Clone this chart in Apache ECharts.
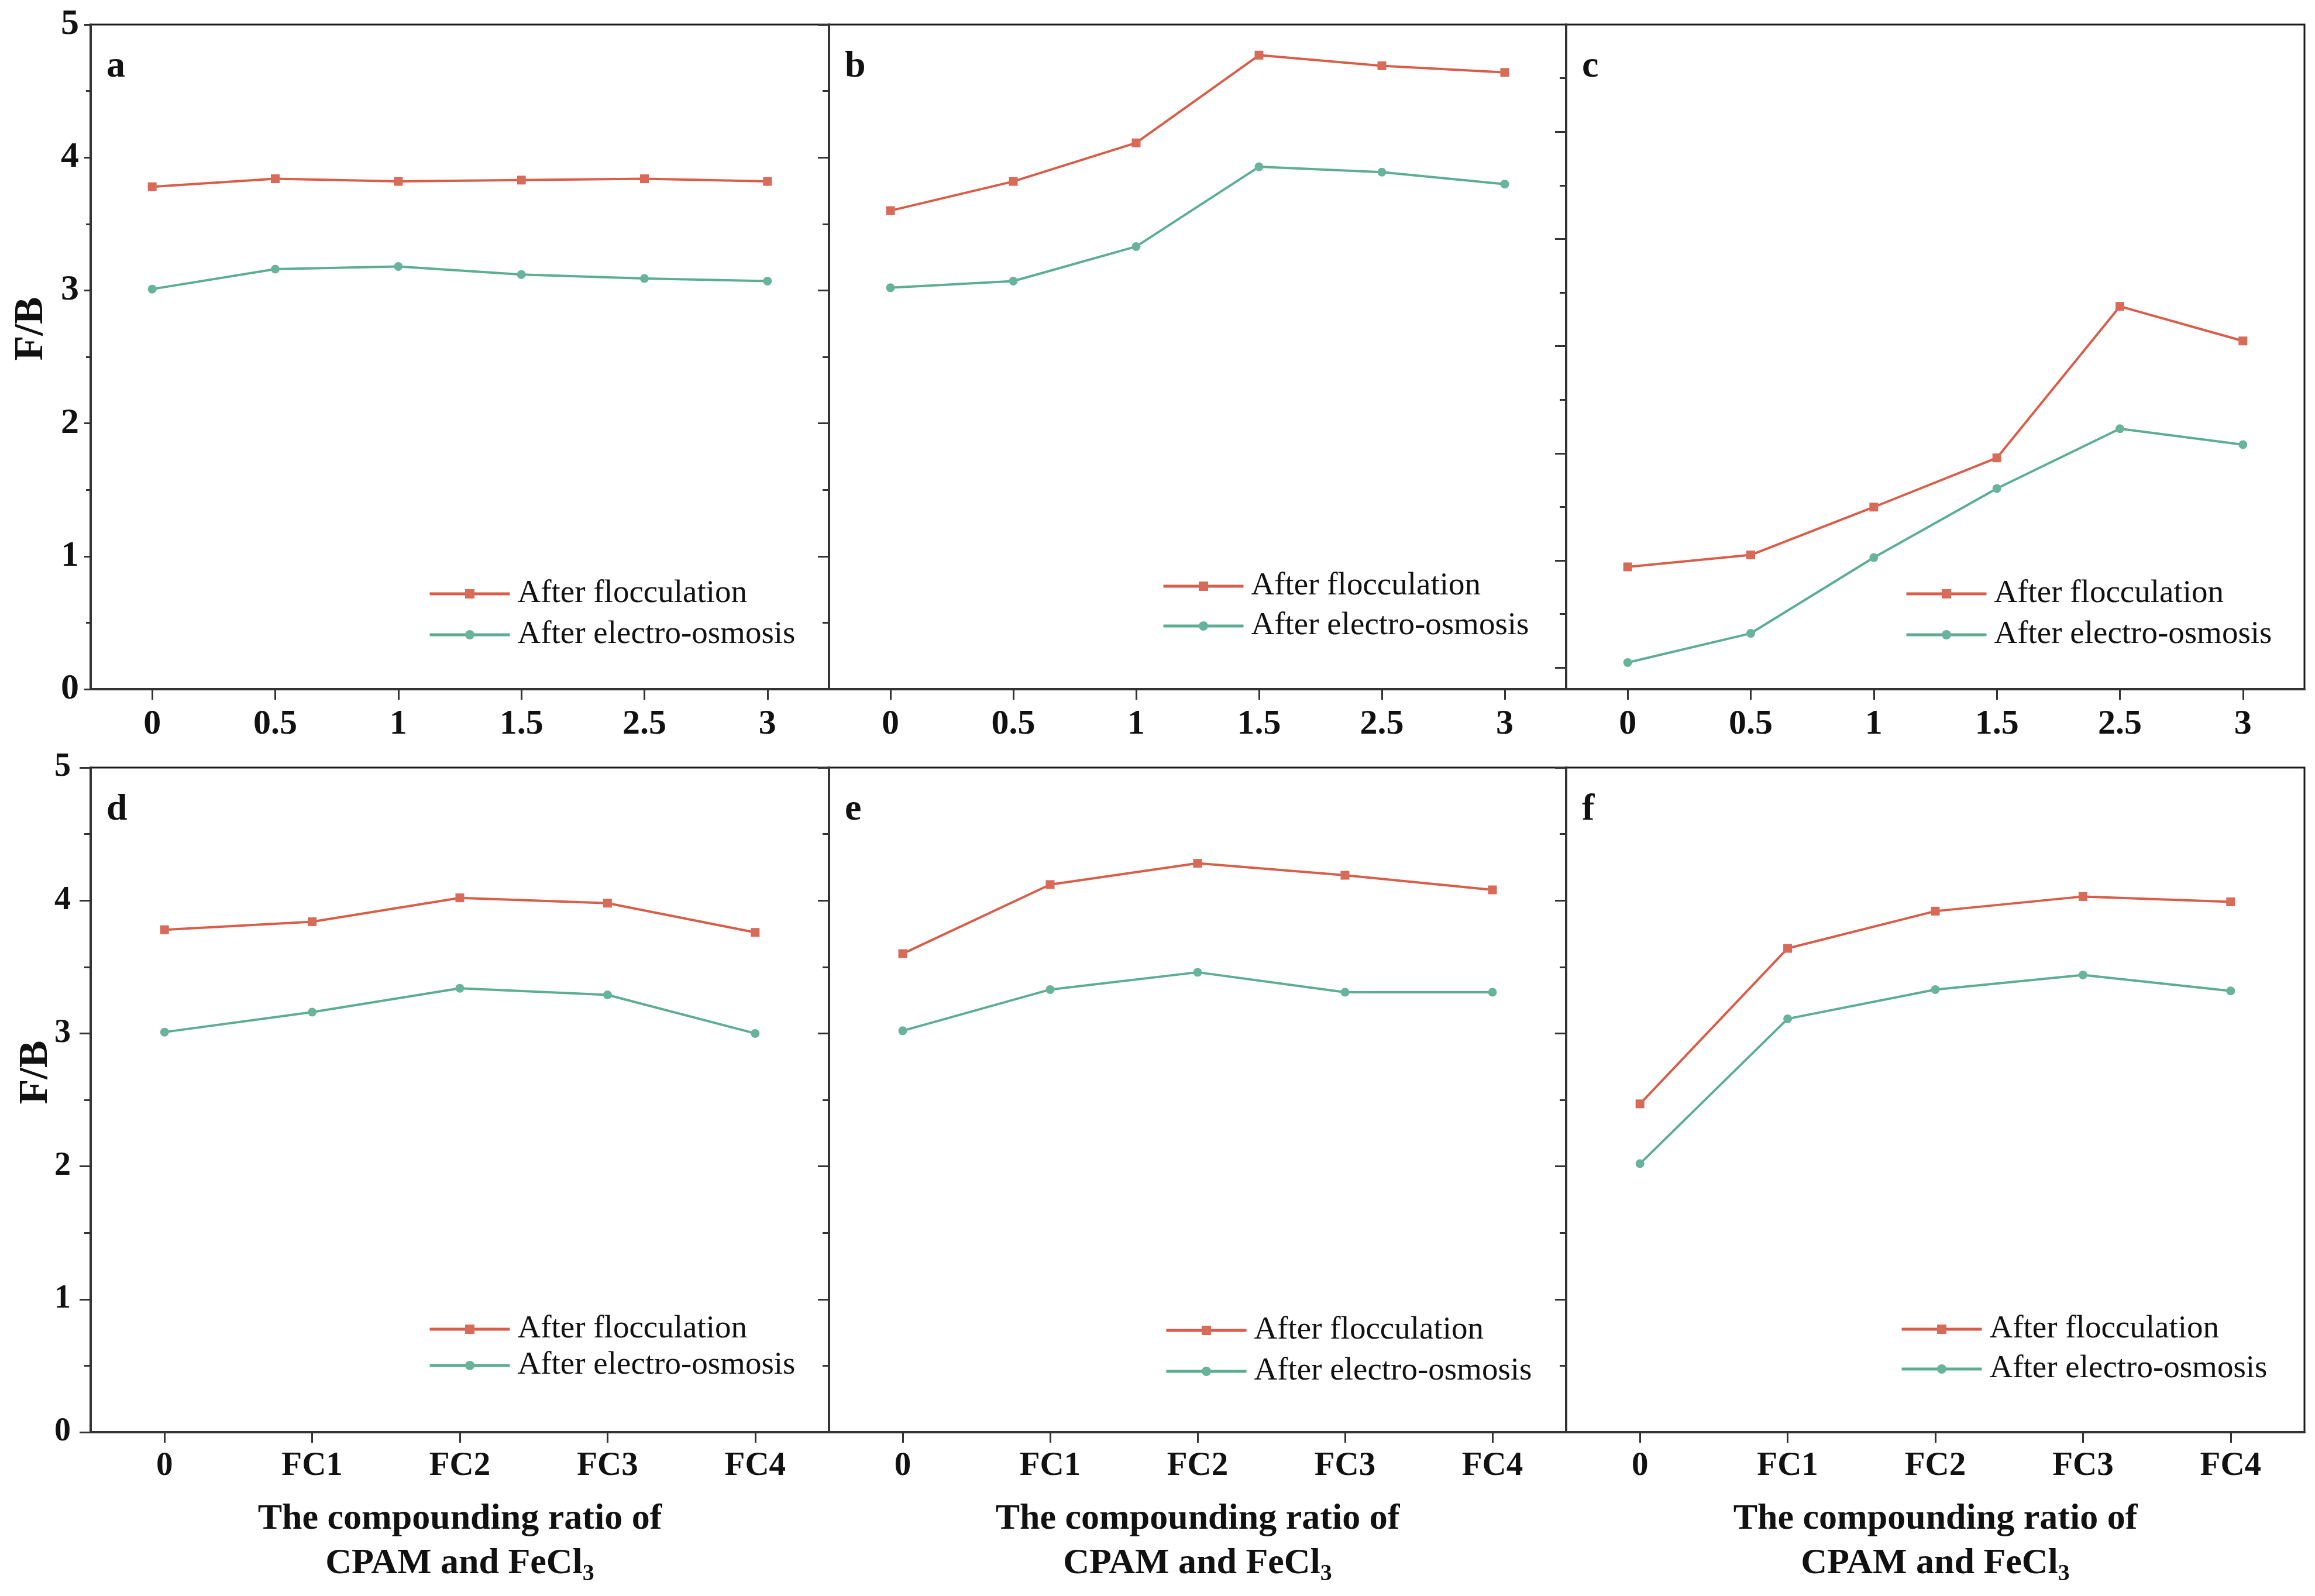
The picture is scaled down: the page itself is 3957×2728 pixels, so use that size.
<!DOCTYPE html>
<html>
<head>
<meta charset="utf-8">
<script src="https://cdn.jsdelivr.net/npm/echarts@6/dist/echarts.min.js"></script>
<style>
html,body{margin:0;padding:0;background:#fff;}
#chart{width:3957px;height:2728px;}
</style>
</head>
<body>
<div id="chart"></div>
<script>
// ---------- data ----------
const xTop = ['0', '0.5', '1', '1.5', '2.5', '3'];
const xBottom = ['0', 'FC1', 'FC2', 'FC3', 'FC4'];
const seriesNames = ['After flocculation', 'After electro-osmosis'];
const panelLetters = ['a', 'b', 'c', 'd', 'e', 'f'];

const flocA = [3.78, 3.84, 3.82, 3.83, 3.84, 3.82];
const eoA   = [3.01, 3.16, 3.18, 3.12, 3.09, 3.07];
const flocB = [3.60, 3.82, 4.11, 4.77, 4.69, 4.64];
const eoB   = [3.02, 3.07, 3.33, 3.93, 3.89, 3.80];
const flocC = [0.92, 1.01, 1.37, 1.74, 2.88, 2.62];
const eoC   = [0.20, 0.42, 0.99, 1.51, 1.96, 1.84];
const flocD = [3.78, 3.84, 4.02, 3.98, 3.76];
const eoD   = [3.01, 3.16, 3.34, 3.29, 3.00];
const flocE = [3.60, 4.12, 4.28, 4.19, 4.08];
const eoE   = [3.02, 3.33, 3.46, 3.31, 3.31];
const flocF = [2.47, 3.64, 3.92, 4.03, 3.99];
const eoF   = [2.02, 3.11, 3.33, 3.44, 3.32];

// panel c has its own (unlabelled) left tick scale
const cMajorTicks = [0, 1, 2, 3, 4, 5];
const cMinorTicks = [0.5, 1.5, 2.5, 3.5, 4.5, 5.5];

// ---------- layout / style ----------
const FONT = "'Liberation Serif', 'Times New Roman', serif";
const RED_LINE = '#D95D48', RED_MARK = '#D86A58';
const GREEN_LINE = '#5BAE91', GREEN_MARK = '#68B49A';
const AX = '#333333';

const lefts = [155, 1417, 2677];
const widths = [1262, 1260, 1262];
const tops = [42, 1312];
const H = 1136;

const panels = [
  {floc: flocA, eo: eoA, cats: xTop, row: 0, col: 0},
  {floc: flocB, eo: eoB, cats: xTop, row: 0, col: 1},
  {floc: flocC, eo: eoC, cats: xTop, row: 0, col: 2},
  {floc: flocD, eo: eoD, cats: xBottom, row: 1, col: 0},
  {floc: flocE, eo: eoE, cats: xBottom, row: 1, col: 1},
  {floc: flocF, eo: eoF, cats: xBottom, row: 1, col: 2}
];
const legendPos = [
  {left: 732, row1: 1015, gap: 70},
  {left: 1986, row1: 1002, gap: 68},
  {left: 3256, row1: 1015, gap: 70},
  {left: 732, row1: 2272, gap: 62},
  {left: 1991, row1: 2274, gap: 70},
  {left: 3248, row1: 2272, gap: 68}
];
const legendColors = [[RED_LINE, RED_MARK], [GREEN_LINE, GREEN_MARK]];

const grid = [], xAxis = [], yAxis = [], series = [], legend = [], graphic = [];

panels.forEach((p, i) => {
  grid.push({
    left: lefts[p.col], top: tops[p.row], width: widths[p.col], height: H,
    show: true, borderColor: '#1a1a1a', borderWidth: 3, backgroundColor: 'transparent',
    containLabel: false
  });
  const xa = {
    type: 'category', gridIndex: i, data: p.cats, boundaryGap: true,
    axisLine: {show: true, lineStyle: {color: AX, width: 4}},
    axisTick: {show: true, alignWithLabel: true, inside: false, length: 18, lineStyle: {color: AX, width: 3}},
    axisLabel: {show: true, margin: 30, fontFamily: FONT, fontWeight: 'bold', fontSize: p.row === 0 ? 60 : 57, color: '#111'},
    splitLine: {show: false}
  };
  if (p.row === 1) {
    xa.name = '{m|The compounding ratio of}\n{m|CPAM and FeCl}{s|3}';
    xa.nameLocation = 'middle';
    xa.nameGap = 111;
    xa.nameTextStyle = {
      rich: {
        m: {fontFamily: FONT, fontWeight: 'bold', fontSize: 62, lineHeight: 76, color: '#111'},
        s: {fontFamily: FONT, fontWeight: 'bold', fontSize: 40, lineHeight: 26, verticalAlign: 'bottom', color: '#111'}
      }
    };
  }
  xAxis.push(xa);

  const labelled = (p.col === 0);
  const majorLen = (i === 0) ? 11 : 19;
  const minorLen = (i === 0) ? 8 : 11;
  yAxis.push({
    type: 'value', gridIndex: i, min: 0, max: 5, interval: 1,
    axisLine: {show: true, lineStyle: {color: AX, width: 4}},
    axisTick: {show: i !== 2, inside: false, length: majorLen, lineStyle: {color: AX, width: 3}},
    minorTick: {show: i !== 2, splitNumber: 2, length: minorLen, lineStyle: {color: AX, width: 3}},
    axisLabel: {show: labelled, margin: p.row === 0 ? 20 : 34, fontFamily: FONT, fontWeight: 'bold', fontSize: p.row === 0 ? 62 : 56, color: '#111'},
    splitLine: {show: false}, minorSplitLine: {show: false}
  });

  series.push({
    name: seriesNames[0], type: 'line', xAxisIndex: i, yAxisIndex: i, data: p.floc,
    symbol: 'rect', symbolSize: 15, showSymbol: true,
    lineStyle: {color: RED_LINE, width: 4}, itemStyle: {color: RED_MARK},
    emphasis: {disabled: true}, animation: false, z: 3
  });
  series.push({
    name: seriesNames[1], type: 'line', xAxisIndex: i, yAxisIndex: i, data: p.eo,
    symbol: 'circle', symbolSize: 15, showSymbol: true,
    lineStyle: {color: GREEN_LINE, width: 4}, itemStyle: {color: GREEN_MARK},
    emphasis: {disabled: true}, animation: false, z: 3
  });

  const lp = legendPos[i];
  const textH = 56;
  legend.push({
    orient: 'vertical', left: lp.left, top: lp.row1 - textH / 2,
    data: seriesNames.map((n, k) => ({
      name: n,
      lineStyle: {width: 5, color: legendColors[k][0]},
      itemStyle: {color: legendColors[k][1], borderWidth: 0}
    })),
    itemWidth: 137, itemHeight: 20, itemGap: lp.gap - textH,
    padding: 0, selectedMode: false,
    lineStyle: {width: 5},
    textStyle: {fontFamily: FONT, fontSize: 55, lineHeight: textH, color: '#111', padding: [0, 0, 0, 8]}
  });

  graphic.push({
    type: 'text', left: lefts[p.col] + 27, top: tops[p.row] + 40,
    style: {text: panelLetters[i], font: 'bold 64px ' + FONT, fill: '#111'}
  });
});

// extra tick-only axes for panel c
const cBase = {
  type: 'value', gridIndex: 2, min: -0.2, max: 6, position: 'left',
  axisLine: {show: false}, axisLabel: {show: false}, splitLine: {show: false}
};
yAxis.push(Object.assign({}, cBase, {
  axisTick: {show: true, inside: false, length: 19, customValues: cMajorTicks, lineStyle: {color: AX, width: 3}}
}));
yAxis.push(Object.assign({}, cBase, {
  axisTick: {show: true, inside: false, length: 11, customValues: cMinorTicks, lineStyle: {color: AX, width: 3}}
}));

// y titles
graphic.push({
  type: 'text', x: 54, y: 562, rotation: Math.PI / 2,
  style: {text: 'F/B', font: 'bold 70px ' + FONT, fill: '#111', align: 'center', verticalAlign: 'middle'}
});
graphic.push({
  type: 'text', x: 62, y: 1833, rotation: Math.PI / 2,
  style: {text: 'F/B', font: 'bold 70px ' + FONT, fill: '#111', align: 'center', verticalAlign: 'middle'}
});

const chart = echarts.init(document.getElementById('chart'), null, {renderer: 'canvas'});
chart.setOption({
  animation: false,
  backgroundColor: '#ffffff',
  grid, xAxis, yAxis, series, legend, graphic
});
</script>
</body>
</html>
